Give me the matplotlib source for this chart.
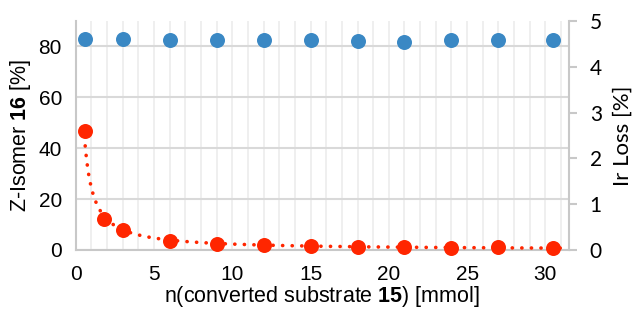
#Import packages
import numpy as np
import matplotlib
matplotlib.use('Agg')
import matplotlib.pyplot as plt

#Data
n_substrate = [0.6, 1.8, 3, 6, 9, 12, 15, 18, 21, 24, 27, 30.5]
z_isomer_x = [0.6, 3, 6, 9, 12, 15, 18, 21, 24, 27, 30.5]
z_isomer = [82.8, 82.8, 82.7, 82.6, 82.7, 82.5, 82.2, 81.9, 82.6, 82.6, 82.6]
ir_loss = [2.59, 0.68, 0.43, 0.20, 0.13, 0.11, 0.09, 0.07, 0.06, 0.04, 0.07, 0.04]

x_ticks = [0, 5, 10, 15, 20, 25, 30]
left_ticks = [0, 20, 40, 60, 80]
right_ticks = [0, 1, 2, 3, 4, 5]

blue = '#3A88C4'
red = '#FF2600'

#Main script
def main():
	plt.rcParams['font.family'] = ['Liberation Sans', 'DejaVu Sans']
	plt.rcParams['mathtext.fontset'] = 'custom'
	plt.rcParams['mathtext.rm'] = 'Liberation Sans'
	plt.rcParams['mathtext.bf'] = 'Liberation Sans:bold'

	fig = plt.figure(figsize=(6.37, 3.09), dpi=100)
	ax = fig.add_axes([0.119, 0.191, 0.774, 0.741])
	ax2 = ax.twinx()

	#Grid
	ax.set_xlim(0, 31.5)
	ax.set_ylim(0, 90)
	ax.set_xticks(x_ticks)
	ax.set_xticks(np.arange(1, 32), minor=True)
	ax.set_yticks(left_ticks)
	ax.grid(axis='x', which='both', color='#ececec', lw=1.2, zorder=0)
	ax.grid(axis='y', which='major', color='#d9d9d9', lw=1.5, zorder=0)
	ax.tick_params(axis='both', which='both', length=0, labelsize=15, pad=11)
	ax.tick_params(axis='y', pad=10)
	for s in ['top', 'right']:
		ax.spines[s].set_visible(False)
	for s in ['left', 'bottom']:
		ax.spines[s].set_color('#c8c8c8')
		ax.spines[s].set_linewidth(1.5)

	#Z-isomer (left axis)
	ax.plot(z_isomer_x, z_isomer, 'o', color=blue, ms=10.8, mec='none', zorder=3, clip_on=False)

	#Ir loss (right axis) with power trendline
	ax2.set_ylim(0, 5)
	ax2.set_yticks(right_ticks)
	b, a = np.polyfit(np.log(n_substrate), np.log(ir_loss), 1)
	xs = np.linspace(n_substrate[0], 31.5, 400)
	ax2.plot(xs, np.exp(a) * xs ** b, color=red, lw=2.6, linestyle=(0, (0.05, 2.6)),
		dash_capstyle='round', zorder=2)
	ax2.plot(n_substrate, ir_loss, 'o', color=red, ms=10.8, mec='none', zorder=3, clip_on=False)
	for s in ['top', 'left', 'bottom']:
		ax2.spines[s].set_visible(False)
	ax2.spines['right'].set_color('#c8c8c8')
	ax2.spines['right'].set_linewidth(1.5)
	ax2.tick_params(axis='y', length=6, width=1.5, color='#c8c8c8', labelsize=15, pad=9)
	for lab in ax2.get_yticklabels():
		lab.set_family('Lato')

	ax.set_xlabel(r'n(converted substrate $\mathbf{15}$) [mmol]', fontsize=15.5, labelpad=0)
	ax.set_ylabel(r'Z-Isomer $\mathbf{16}$ [%]', fontsize=15.5, labelpad=4)
	ax2.set_ylabel('Ir Loss [%]', fontsize=16, family='Lato', labelpad=8)

	fig.savefig('out.png', dpi=100)

#Execute main script
if __name__ == '__main__':
	main()
